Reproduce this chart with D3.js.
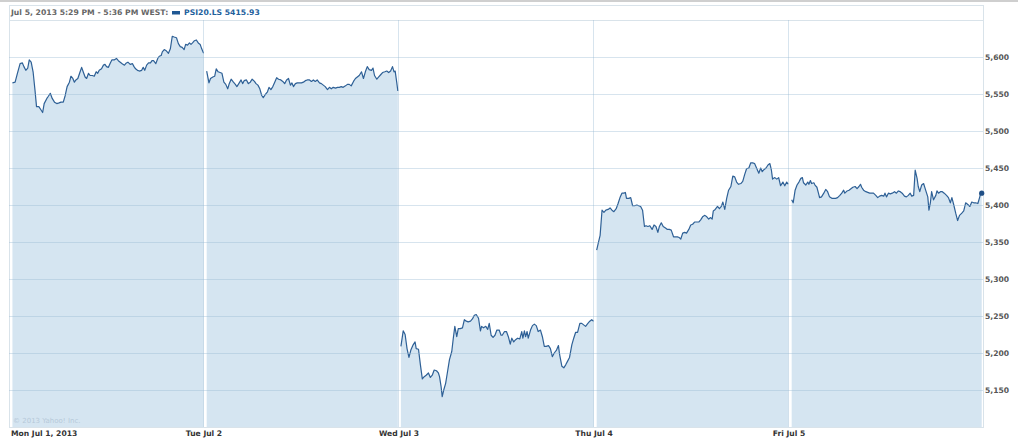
<!DOCTYPE html>
<html>
<head>
<meta charset="utf-8">
<script src="https://cdn.jsdelivr.net/npm/d3@7"></script>
<style>
  html, body { margin: 0; padding: 0; background: #fff; }
  svg { display: block; }
  text { font-family: "DejaVu Sans", Verdana, sans-serif; }
</style>
</head>
<body>
<svg id="chart" width="1024" height="440"></svg>
<script>
// ---- data (minute of session, PSI20 value) ----
const dayLabels = ["Mon Jul 1, 2013", "Tue Jul 2", "Wed Jul 3", "Thu Jul 4", "Fri Jul 5"];
const yTicks = [5150, 5200, 5250, 5300, 5350, 5400, 5450, 5500, 5550, 5600];
const headerText = "Jul 5, 2013 5:29 PM - 5:36 PM WEST:";
const seriesName = "PSI20.LS";
const lastValue = 5415.93;
const copyright = "\u00a9 2013 Yahoo! Inc.";

const monData = [[9,5565],[16,5566],[22,5578],[29,5591],[35,5592],[39,5587],[44,5582],[49,5585],[53,5596],[58,5593],[63,5580],[68,5555],[72,5533],[78,5533],[83,5529],[88,5525],[92,5537],[99,5544],[103,5547],[108,5551],[113,5544],[119,5539],[125,5537],[131,5538],[136,5539],[142,5539],[147,5548],[152,5560],[158,5566],[162,5574],[167,5571],[171,5566],[175,5569],[180,5571],[186,5580],[190,5586],[194,5580],[199,5573],[203,5571],[208,5578],[212,5575],[218,5575],[223,5574],[228,5580],[232,5578],[236,5582],[242,5584],[247,5589],[251,5590],[255,5587],[260,5586],[265,5592],[269,5596],[275,5596],[281,5598],[286,5595],[291,5593],[296,5591],[302,5589],[307,5592],[311,5593],[317,5590],[323,5591],[327,5587],[331,5584],[336,5582],[341,5581],[347,5582],[351,5586],[355,5582],[360,5589],[365,5592],[370,5592],[374,5595],[378,5595],[384,5591],[389,5598],[393,5601],[398,5602],[401,5607],[406,5610],[412,5608],[417,5605],[422,5611],[427,5628],[432,5627],[438,5626],[443,5618],[448,5614],[453,5613],[458,5610],[462,5617],[467,5616],[472,5619],[476,5617],[480,5619],[485,5622],[490,5623],[495,5619],[500,5617],[504,5611],[509,5605]];
const tueData = [[7,5581],[13,5565],[17,5571],[23,5573],[28,5574],[32,5584],[37,5580],[42,5579],[47,5578],[52,5566],[57,5563],[62,5557],[66,5564],[71,5570],[77,5566],[82,5563],[86,5560],[91,5564],[97,5569],[101,5564],[105,5568],[111,5569],[116,5564],[121,5566],[126,5570],[132,5567],[136,5564],[141,5562],[146,5557],[151,5548],[155,5545],[160,5549],[166,5553],[170,5559],[175,5556],[180,5560],[185,5566],[190,5572],[195,5570],[201,5569],[206,5567],[211,5564],[216,5569],[221,5571],[226,5562],[230,5565],[234,5560],[239,5564],[244,5565],[249,5565],[255,5565],[260,5566],[265,5568],[270,5569],[276,5569],[281,5567],[286,5569],[291,5567],[296,5569],[302,5565],[307,5564],[312,5562],[317,5560],[323,5556],[328,5559],[333,5557],[338,5559],[344,5558],[349,5559],[354,5559],[359,5560],[364,5559],[370,5561],[375,5563],[380,5563],[385,5561],[391,5567],[396,5571],[401,5573],[406,5575],[412,5580],[417,5571],[422,5580],[427,5587],[432,5583],[438,5582],[442,5585],[446,5575],[452,5570],[457,5573],[462,5576],[467,5579],[473,5580],[478,5581],[483,5579],[488,5581],[493,5587],[497,5580],[500,5581],[504,5566],[507,5554]];
const wedData = [[5,5209],[11,5230],[16,5225],[21,5206],[26,5194],[31,5204],[37,5211],[42,5215],[45,5206],[51,5205],[56,5184],[61,5165],[66,5168],[71,5170],[77,5173],[82,5167],[87,5170],[92,5177],[98,5176],[103,5173],[106,5168],[110,5155],[113,5141],[117,5150],[122,5159],[127,5175],[132,5191],[138,5202],[142,5220],[146,5236],[151,5222],[155,5233],[160,5233],[166,5234],[171,5245],[176,5243],[181,5242],[187,5243],[192,5246],[197,5251],[202,5252],[208,5247],[213,5230],[216,5236],[221,5234],[227,5236],[232,5232],[236,5240],[241,5224],[246,5221],[251,5224],[256,5231],[262,5231],[267,5224],[270,5224],[276,5229],[281,5229],[286,5222],[291,5212],[295,5220],[300,5215],[305,5218],[310,5220],[316,5219],[321,5229],[324,5220],[328,5230],[331,5222],[335,5229],[338,5220],[344,5231],[349,5237],[354,5239],[359,5237],[364,5229],[370,5231],[375,5222],[380,5209],[385,5209],[391,5210],[396,5206],[401,5195],[406,5200],[412,5204],[417,5210],[420,5198],[426,5182],[431,5180],[436,5184],[441,5189],[446,5194],[452,5211],[457,5220],[462,5228],[467,5228],[473,5240],[478,5240],[483,5238],[488,5236],[494,5240],[499,5243],[504,5245],[509,5243]];
const thuData = [[7,5339],[11,5348],[16,5359],[21,5393],[26,5390],[31,5393],[37,5394],[42,5396],[47,5393],[52,5391],[58,5395],[63,5402],[68,5410],[73,5416],[78,5416],[82,5417],[85,5409],[91,5409],[96,5410],[101,5399],[106,5399],[112,5400],[117,5399],[122,5398],[127,5393],[132,5371],[136,5372],[141,5371],[146,5372],[152,5367],[157,5373],[162,5371],[167,5363],[171,5371],[176,5376],[181,5371],[187,5369],[192,5367],[197,5367],[202,5366],[208,5357],[213,5357],[218,5357],[223,5356],[227,5354],[232,5362],[237,5363],[242,5362],[248,5367],[253,5373],[258,5374],[263,5377],[269,5377],[274,5377],[279,5380],[284,5384],[290,5386],[295,5384],[300,5381],[305,5383],[309,5381],[312,5392],[317,5394],[323,5398],[328,5395],[333,5398],[337,5404],[342,5394],[347,5409],[352,5420],[358,5425],[363,5439],[368,5438],[373,5431],[378,5428],[384,5429],[389,5432],[394,5441],[399,5449],[405,5450],[410,5457],[415,5457],[420,5456],[426,5449],[431,5443],[436,5450],[440,5445],[445,5448],[450,5450],[455,5454],[460,5456],[464,5447],[467,5435],[473,5437],[478,5435],[483,5437],[488,5426],[494,5431],[499,5426],[504,5431],[508,5428]];
const friData = [[7,5407],[11,5403],[16,5420],[21,5427],[26,5431],[31,5436],[35,5437],[38,5430],[44,5427],[49,5431],[52,5428],[56,5433],[59,5429],[65,5430],[68,5427],[73,5424],[77,5416],[80,5410],[85,5411],[91,5416],[96,5421],[101,5418],[106,5411],[112,5409],[117,5409],[122,5409],[127,5410],[133,5413],[138,5416],[143,5420],[146,5416],[152,5419],[157,5420],[162,5422],[167,5424],[173,5425],[178,5422],[183,5425],[187,5428],[190,5424],[195,5420],[201,5418],[206,5417],[211,5416],[216,5416],[221,5416],[227,5413],[232,5410],[237,5412],[242,5413],[248,5412],[251,5416],[255,5411],[260,5416],[265,5415],[270,5416],[276,5418],[281,5416],[286,5419],[291,5418],[296,5416],[302,5412],[307,5411],[312,5413],[317,5416],[321,5412],[326,5413],[330,5447],[335,5436],[338,5425],[342,5418],[347,5427],[352,5429],[358,5419],[363,5411],[366,5393],[370,5404],[373,5418],[378,5407],[384,5413],[387,5419],[391,5416],[396,5418],[401,5418],[406,5416],[412,5413],[417,5410],[422,5403],[426,5410],[431,5400],[436,5389],[441,5379],[446,5386],[452,5389],[457,5392],[462,5403],[467,5401],[473,5398],[478,5404],[483,5403],[488,5403],[494,5402],[499,5411],[502,5418],[504,5415.93]];

const days = [monData, tueData, wedData, thuData, friData];
const sessionMinutes = 510;

// ---- layout ----
const svg = d3.select("#chart");
const pLeft = 9, pRight = 984, pTop = 20, pBottom = 427, frameRight = 983;

const x = d3.scaleLinear().domain([0, sessionMinutes * days.length]).range([pLeft, pRight]);
const y = d3.scaleLinear().domain([5100, 5650]).range([pBottom, pTop]);

// top strip
svg.append("rect").attr("x", 0).attr("y", 0).attr("width", 1018).attr("height", 2).attr("fill", "#cfcfcf");

// frame + header box
svg.append("rect").attr("x", pLeft + 0.5).attr("y", 5.5)
  .attr("width", frameRight - pLeft).attr("height", pBottom - 5)
  .attr("fill", "#fff").attr("stroke", "#d9e3ea");
svg.append("line").attr("x1", pLeft).attr("x2", frameRight).attr("y1", pTop + 0.5).attr("y2", pTop + 0.5)
  .attr("stroke", "#d9e3ea");

const plot = svg.append("g");

days.forEach((data, di) => {
  const a = d3.area()
    .x(d => x(di * sessionMinutes + d[0]))
    .y0(pBottom)
    .y1(d => y(d[1]));
  plot.append("path").datum(data).attr("d", a).attr("fill", "#d5e5f1");
});

// gridlines (drawn over fill with transparency)
const grid = svg.append("g");
grid.selectAll("line.h").data(yTicks).enter().append("line")
  .attr("x1", pLeft).attr("x2", frameRight)
  .attr("y1", d => Math.round(y(d)) + 0.5).attr("y2", d => Math.round(y(d)) + 0.5)
  .attr("stroke", "rgb(150,185,210)").attr("stroke-opacity", 0.38);
grid.selectAll("line.v").data(d3.range(1, days.length)).enter().append("line")
  .attr("x1", d => Math.round(x(d * sessionMinutes)) - 0.5)
  .attr("x2", d => Math.round(x(d * sessionMinutes)) - 0.5)
  .attr("y1", pTop).attr("y2", pBottom)
  .attr("stroke", "rgb(150,185,210)").attr("stroke-opacity", 0.38);

days.forEach((data, di) => {
  const l = d3.line()
    .x(d => x(di * sessionMinutes + d[0]))
    .y(d => y(d[1]));
  plot.append("path").datum(data).attr("d", l)
    .attr("fill", "none").attr("stroke", "#2e6096").attr("stroke-width", 1.2)
    .attr("stroke-linejoin", "round");
});
svg.append("rect").attr("x", frameRight).attr("y", pTop).attr("width", 1).attr("height", pBottom - pTop).attr("fill", "#d9e3ea");

// end marker
const lastDay = days[days.length - 1];
const lastPt = lastDay[lastDay.length - 1];
svg.append("circle")
  .attr("cx", x((days.length - 1) * sessionMinutes + lastPt[0]))
  .attr("cy", y(lastPt[1])).attr("r", 2.6).attr("fill", "#1f4f86");

// y-axis labels
svg.append("g").selectAll("text").data(yTicks).enter().append("text")
  .attr("x", 985).attr("y", d => y(d))
  .attr("dy", "0.35em")
  .attr("font-size", "7.6px").attr("font-weight", "bold").attr("fill", "#555")
  .text(d => d3.format(",")(d));

// x-axis labels
svg.append("g").selectAll("text").data(dayLabels).enter().append("text")
  .attr("x", (d, i) => i === 0 ? 11 : x(i * sessionMinutes))
  .attr("y", 433).attr("dy", "0.35em")
  .attr("text-anchor", (d, i) => i === 0 ? "start" : "middle")
  .attr("font-size", "7.6px").attr("font-weight", "bold").attr("fill", "#333")
  .text(d => d);

// header
svg.append("text").attr("x", 11).attr("y", 12.8).attr("dy", "0.35em")
  .attr("font-size", "7.7px").attr("font-weight", "bold").attr("fill", "#666")
  .text(headerText);
svg.append("rect").attr("x", 172).attr("y", 11).attr("width", 8).attr("height", 3.5).attr("fill", "#1f5894");
svg.append("text").attr("x", 184).attr("y", 12.8).attr("dy", "0.35em")
  .attr("font-size", "7.7px").attr("font-weight", "bold").attr("fill", "#22609c")
  .text(seriesName + " " + d3.format(".2f")(lastValue));

// copyright
svg.append("text").attr("x", 13).attr("y", 421).attr("dy", "0.35em")
  .attr("font-size", "7px").attr("fill", "#b5c9d9")
  .text(copyright);
</script>
</body>
</html>
